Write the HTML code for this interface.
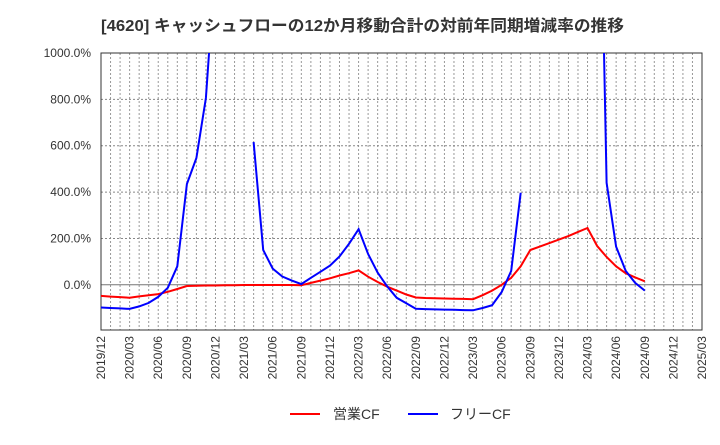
<!DOCTYPE html>
<html><head><meta charset="utf-8"><style>
body{margin:0;background:#fff;font-family:"Liberation Sans","Noto Sans CJK JP",sans-serif;}
</style></head><body>
<svg id="c" width="720" height="440" xmlns="http://www.w3.org/2000/svg" style="font-family:'Liberation Sans','Noto Sans CJK JP',sans-serif">
<text x="101" y="31" font-size="16" font-weight="bold" fill="#333" textLength="523" lengthAdjust="spacingAndGlyphs">[4620]  キャッシュフローの12か月移動合計の対前年同期増減率の推移</text>
<g id="grid"></g><g id="axes"></g><g id="series"></g>
<g>
<line x1="290" y1="414" x2="320" y2="414" stroke="#f00" stroke-width="2"/>
<text x="333" y="419" font-size="14" fill="#333">営業CF</text>
<line x1="408" y1="414" x2="438" y2="414" stroke="#00f" stroke-width="2"/>
<text x="450" y="419" font-size="14" fill="#333">フリーCF</text>
</g>
</svg>
<script>
const yTicks=[0,200,400,600,800,1000];
const xTickLabels=["2019/12","2020/03","2020/06","2020/09","2020/12","2021/03","2021/06","2021/09","2021/12","2022/03","2022/06","2022/09","2022/12","2023/03","2023/06","2023/09","2023/12","2024/03","2024/06","2024/09","2024/12","2025/03"];
const eigyoCF=[-48,-51,-53,-56,-50,-45,-40,-30,-18,-5,-4,-3,-3,-2,-2,-1,-1,-1,-1,-1,-1,-2,8,18,28,40,50,62,35,12,-8,-25,-42,-55,-57,-58,-59,-60,-61,-62,-45,-25,0,30,80,150,165,180,195,210,228,245,168,120,80,50,32,15];
const freeCF=[-98,-100,-102,-104,-93,-78,-52,-13,80,435,547,806,1400,null,null,null,616,150,70,36,18,3,30,56,83,122,177,240,133,52,-7,-56,-80,-103,-105,-106,-107,-108,-109,-110,-100,-88,-31,60,397,null,null,null,null,null,null,null,2500,440,165,60,8,-25];
const L=101,R=702,T=53,B=330,yMin=-195,yMax=1000,months=63;
const xs=m=>L+(R-L)*m/months;
const ys=v=>B-(B-T)*(v-yMin)/(yMax-yMin);
const NS="http://www.w3.org/2000/svg";
function mk(p,t,a){const e=document.createElementNS(NS,t);for(const k in a)e.setAttribute(k,a[k]);p.appendChild(e);return e;}
const g=document.getElementById('grid'),ax=document.getElementById('axes'),s=document.getElementById('series');
const clip=mk(document.getElementById('c'),'clipPath',{id:'pc'});mk(clip,'rect',{x:L,y:T,width:R-L,height:B-T});
for(let m=1;m<months;m++){const l=mk(g,'line',{x1:xs(m),x2:xs(m),y1:T,y2:B,stroke:'#999','stroke-dasharray':'2,2','stroke-width':1});
}
yTicks.forEach(v=>{const y=ys(v);const l=mk(g,'line',{x1:L,x2:R,y1:y,y2:y,stroke:v===0?'#777':'#888','stroke-dasharray':v===0?'':'2,2','stroke-width':1});

const t=mk(ax,'text',{x:91,y:y+4,'text-anchor':'end','font-size':12,fill:'#333'});t.textContent=v.toFixed(1)+'%';
});
const fr=mk(ax,'rect',{x:L,y:T,width:R-L,height:B-T,fill:'none',stroke:'#333','stroke-width':1});

xTickLabels.forEach((lb,i)=>{const x=xs(i*3);const t=mk(ax,'text',{x:0,y:0,'text-anchor':'end','font-size':12,fill:'#333',transform:`translate(${x+4},${B+6}) rotate(-90)`});t.textContent=lb;
});
function path(arr){let d='',pen=false;arr.forEach((v,i)=>{if(v===null){pen=false;return;}d+=(pen?'L':'M')+xs(i).toFixed(1)+','+ys(v).toFixed(1);pen=true;});return d;}
const p1=mk(s,'path',{d:path(eigyoCF),fill:'none',stroke:'#f00','stroke-width':2,'clip-path':'url(#pc)'});

const p2=mk(s,'path',{d:path(freeCF),fill:'none',stroke:'#00f','stroke-width':2,'clip-path':'url(#pc)'});

</script>
</body></html>
